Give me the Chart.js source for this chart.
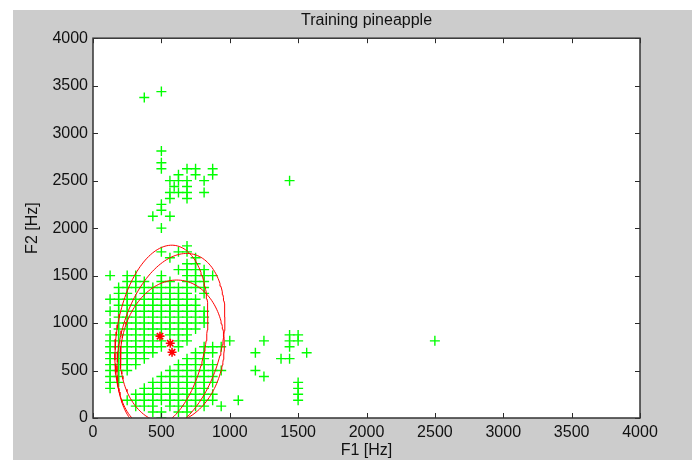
<!DOCTYPE html>
<html><head><meta charset="utf-8">
<script src="https://cdn.jsdelivr.net/npm/chart.js@4"></script>
<style>html,body{margin:0;padding:0;background:#fff}canvas{display:block}</style>
</head><body>
<canvas id="c" width="695" height="460"></canvas>
<script>
const chartTitle = 'Training pineapple';
const xTitle = 'F1 [Hz]';
const yTitle = 'F2 [Hz]';
const tickValues = [0, 500, 1000, 1500, 2000, 2500, 3000, 3500, 4000];

// green training samples, grouped by F2 row
const rowF2 = [3437.5, 3375, 2812.5, 2687.5, 2625, 2562.5, 2500, 2437.5, 2375, 2312.5, 2250, 2187.5, 2125, 2000,
  1812.5, 1750, 1687.5, 1625, 1562.5, 1500, 1437.5, 1375, 1312.5, 1250, 1187.5, 1125, 1062.5, 1000, 937.5,
  875, 812.5, 750, 687.5, 625, 562.5, 500, 437.5, 375, 312.5, 250, 187.5, 125, 62.5, 0];
const rowF1 = [
  [500], [375], [500], [500], [500, 687.5, 750, 875], [625, 750, 875], [562.5, 625, 687.5, 812.5, 1437.5],
  [593.75, 687.5], [562.5, 625, 687.5, 812.5], [562.5, 687.5], [500], [500], [437.5, 562.5], [500],
  [687.5], [500, 625, 687.5], [562.5, 750], [687.5, 750], [625, 687.5, 750, 812.5],
  [125, 250, 312.5, 500, 687.5, 750, 812.5, 875],
  [250, 312.5, 375, 500, 562.5, 687.5, 750, 812.5],
  [187.5, 250, 312.5, 375, 437.5, 500, 562.5, 625, 687.5, 750, 812.5],
  [187.5, 250, 375, 437.5, 500, 562.5, 625, 687.5, 812.5],
  [125, 187.5, 250, 312.5, 375, 437.5, 500, 562.5, 625, 687.5, 750],
  [187.5, 250, 312.5, 375, 437.5, 500, 562.5, 625, 687.5, 750],
  [125, 187.5, 250, 312.5, 375, 437.5, 500, 562.5, 625, 687.5, 750, 812.5],
  [187.5, 250, 312.5, 375, 437.5, 500, 562.5, 625, 687.5, 750, 812.5],
  [125, 187.5, 250, 312.5, 375, 437.5, 500, 562.5, 625, 687.5, 750, 812.5],
  [187.5, 250, 312.5, 375, 437.5, 500, 562.5, 625, 687.5, 750],
  [125, 187.5, 250, 312.5, 375, 437.5, 562.5, 625, 687.5, 1437.5, 1500],
  [125, 187.5, 250, 312.5, 375, 437.5, 500, 625, 687.5, 1000, 1250, 1437.5, 1500, 2500],
  [125, 187.5, 250, 312.5, 375, 437.5, 500, 625, 812.5, 875, 937.5, 1437.5],
  [125, 187.5, 250, 312.5, 375, 437.5, 750, 812.5, 875, 1187.5, 1562.5],
  [125, 187.5, 250, 312.5, 375, 687.5, 750, 812.5, 1375, 1437.5],
  [125, 187.5, 250, 312.5, 625, 687.5, 750, 812.5, 875],
  [125, 187.5, 250, 562.5, 625, 687.5, 750, 812.5, 875, 937.5, 1187.5],
  [125, 187.5, 500, 562.5, 625, 687.5, 750, 812.5, 875, 1250],
  [125, 187.5, 437.5, 500, 562.5, 625, 687.5, 750, 812.5, 875, 1500],
  [125, 375, 437.5, 500, 562.5, 625, 687.5, 750, 812.5, 1500],
  [312.5, 375, 437.5, 500, 562.5, 625, 687.5, 750, 812.5, 875, 1500],
  [250, 312.5, 375, 437.5, 500, 562.5, 625, 687.5, 750, 812.5, 875, 1062.5, 1500],
  [312.5, 375, 437.5, 562.5, 625, 687.5, 750, 812.5, 937.5],
  [437.5, 500, 625, 687.5],
  [500]
];

// mixture component means (red stars)
const meanF1 = [490, 565, 578];
const meanF2 = [862, 787, 692];
// component contour ellipses: centre, half-extent in F1, half-extent in F2, tilt coefficient
const ellF1 = [500, 570, 580];
const ellF2 = [860, 790, 700];
const ellHalfF1 = [340, 395, 380];
const ellHalfF2 = [960, 943, 753];
const ellTilt = [0.224, 0.29, 0.084];

const samples = [];
rowF2.forEach((f2, i) => rowF1[i].forEach(f1 => samples.push({x: f1, y: f2})));
const means = meanF1.map((f1, i) => ({x: f1, y: meanF2[i]}));

function ellipsePoints(i) {
  const pts = [];
  const n = 160;
  const s = Math.sqrt(1 - ellTilt[i] * ellTilt[i]);
  for (let k = 0; k <= n; k++) {
    const t = 2 * Math.PI * k / n;
    pts.push({x: ellF1[i] + ellHalfF1[i] * Math.cos(t),
              y: ellF2[i] + ellHalfF2[i] * (ellTilt[i] * Math.cos(t) + s * Math.sin(t))});
  }
  return pts;
}

const FONT = {family: "'Liberation Sans', Arial, sans-serif", size: 16};
const TXT = '#111';

const frame = {
  id: 'frame',
  beforeDraw(chart) {
    const {ctx, chartArea: a} = chart;
    ctx.save();
    ctx.fillStyle = '#ffffff';
    ctx.fillRect(0, 0, chart.width, chart.height);
    ctx.fillStyle = '#cccccc';
    ctx.fillRect(13, 10, 679, 450);
    ctx.fillStyle = '#ffffff';
    ctx.fillRect(a.left, a.top, a.right - a.left, a.bottom - a.top);
    ctx.restore();
  },
  afterDraw(chart) {
    const {ctx, chartArea: a, scales} = chart;
    ctx.save();
    ctx.strokeStyle = '#2a2a2a';
    ctx.lineWidth = 1;
    ctx.beginPath();
    tickValues.forEach(v => {
      const px = Math.round(scales.x.getPixelForValue(v)) + 0.5;
      ctx.moveTo(px, a.bottom); ctx.lineTo(px, a.bottom - 5);
      ctx.moveTo(px, a.top); ctx.lineTo(px, a.top + 5);
      const py = Math.round(scales.y.getPixelForValue(v)) + 0.5;
      ctx.moveTo(a.left, py); ctx.lineTo(a.left + 5, py);
      ctx.moveTo(a.right, py); ctx.lineTo(a.right - 5, py);
    });
    ctx.stroke();
    ctx.strokeStyle = '#333333';
    ctx.lineWidth = 1.5;
    ctx.strokeRect(a.left, a.top, a.right - a.left, a.bottom - a.top);
    ctx.restore();
  }
};

const datasets = [
  {label: 'means', data: means, pointStyle: 'star', pointRadius: 4.5, pointBorderColor: '#ff0000',
   pointBackgroundColor: '#ff0000', pointBorderWidth: 1.6, showLine: false, order: 1}
];
ellF1.forEach((_, i) => datasets.push({
  label: 'ellipse' + i, data: ellipsePoints(i), showLine: true, pointRadius: 0, borderColor: '#ff0000',
  borderWidth: 1, fill: false, tension: 0, order: 2
}));
datasets.push({label: 'samples', data: samples, pointStyle: 'cross', pointRadius: 5,
  pointBorderColor: '#00ff00', pointBorderWidth: 1.4, showLine: false, order: 3});

const plainTick = v => String(v);

new Chart(document.getElementById('c'), {
  type: 'scatter',
  data: {datasets},
  plugins: [frame],
  options: {
    responsive: false,
    animation: false,
    devicePixelRatio: 1,
    layout: {padding: {left: 13, right: 55, top: 10, bottom: 0}},
    plugins: {
      legend: {display: false},
      tooltip: {enabled: false},
      title: {display: true, fullSize: false, text: chartTitle, color: TXT, font: {...FONT, weight: 'normal'},
              padding: {top: 1, bottom: 8}}
    },
    scales: {
      x: {
        type: 'linear', min: 0, max: 4000,
        afterFit(s) { s.height = 42; },
        afterBuildTicks(s) { s.ticks = tickValues.map(v => ({value: v})); },
        grid: {display: false, drawTicks: false},
        border: {display: false},
        ticks: {color: TXT, font: FONT, padding: 5, maxRotation: 0, autoSkip: false, callback: plainTick},
        title: {display: true, text: xTitle, color: TXT, font: FONT, padding: {top: 0, bottom: 0}}
      },
      y: {
        type: 'linear', min: 0, max: 4000,
        afterFit(s) { s.width = 80; },
        afterBuildTicks(s) { s.ticks = tickValues.map(v => ({value: v})); },
        grid: {display: false, drawTicks: false},
        border: {display: false},
        ticks: {color: TXT, font: FONT, padding: 5, autoSkip: false, callback: plainTick},
        title: {display: true, text: yTitle, color: TXT, font: FONT, padding: {top: 10, bottom: 0}}
      }
    }
  }
});
</script>
</body></html>
